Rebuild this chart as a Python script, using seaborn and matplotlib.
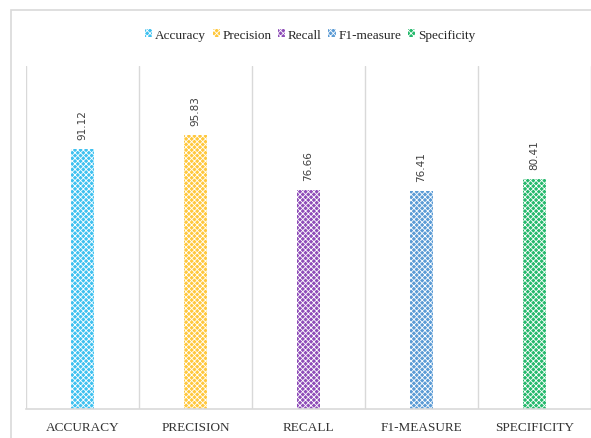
import numpy as np
import pandas as pd
import matplotlib
matplotlib.use("Agg")
import matplotlib.pyplot as plt
import seaborn as sns
from matplotlib.patches import Rectangle, Patch

# data
metrics = ["Accuracy", "Precision", "Recall", "F1-measure", "Specificity"]
tick_labels = ["ACCURACY", "PRECISION", "RECALL", "F1-MEASURE", "SPECIFICITY"]
scores = [91.12, 95.83, 76.66, 76.41, 80.41]
colors = ["#3EC1F0", "#FFC83D", "#8E4CB8", "#5B9BD5", "#25B96C"]

sns.set_theme(style="white")
plt.rcParams["hatch.linewidth"] = 0.6

df = pd.DataFrame({"metric": metrics, "score": scores})

fig = plt.figure(figsize=(5.91, 4.39), dpi=100)
ax = fig.add_axes([26 / 591, 1 - 410 / 439, 565 / 591, 343 / 439])

sns.barplot(data=df, x="metric", y="score", hue="metric", palette=colors,
            width=0.2, dodge=False, legend=False, ax=ax, saturation=1)

# dotted fill like the original
for bar in ax.patches:
    bar.set_hatch("xxxxxx")
    bar.set_edgecolor("white")
    bar.set_linewidth(0)

ax.set_ylim(0, 120)
ax.set_xlim(-0.5, 4.5)
ax.set_yticks([])
ax.set_xlabel("")
ax.set_ylabel("")

# separators between categories
for xv in np.arange(-0.5, 5, 1.0):
    ax.axvline(xv, color="#D9D9D9", lw=1, zorder=0)

for s in ["top", "right", "left"]:
    ax.spines[s].set_visible(False)
ax.spines["bottom"].set_color("#D9D9D9")
ax.spines["bottom"].set_linewidth(1.2)

ax.set_xticks(range(5))
ax.set_xticklabels(tick_labels, family="Liberation Serif", fontsize=9.5,
                   color="#333333")
ax.tick_params(axis="x", length=0, pad=9)

for i, v in enumerate(scores):
    ax.text(i, v + 3.5, f"{v:.2f}", rotation=90, ha="center", va="bottom",
            fontsize=7.5, color="#404040", family="DejaVu Sans")

handles = [Patch(facecolor=c, edgecolor="white", hatch="xxxxxx", lw=0) for c in colors]
fig.legend(handles, metrics, loc="center", bbox_to_anchor=(310 / 591, 1 - 36 / 439),
           ncol=5, frameon=False, handlelength=0.55, handleheight=0.55,
           handletextpad=0.2, columnspacing=0.5,
           prop={"family": "Liberation Serif", "size": 9.5})

# outer frame
fig.patches.append(Rectangle((11 / 591, -0.05), 1.0, 1 - 11 / 439 + 0.05,
                             transform=fig.transFigure, fill=False,
                             edgecolor="#D9D9D9", lw=1.2))

fig.savefig("out.png", dpi=100)
